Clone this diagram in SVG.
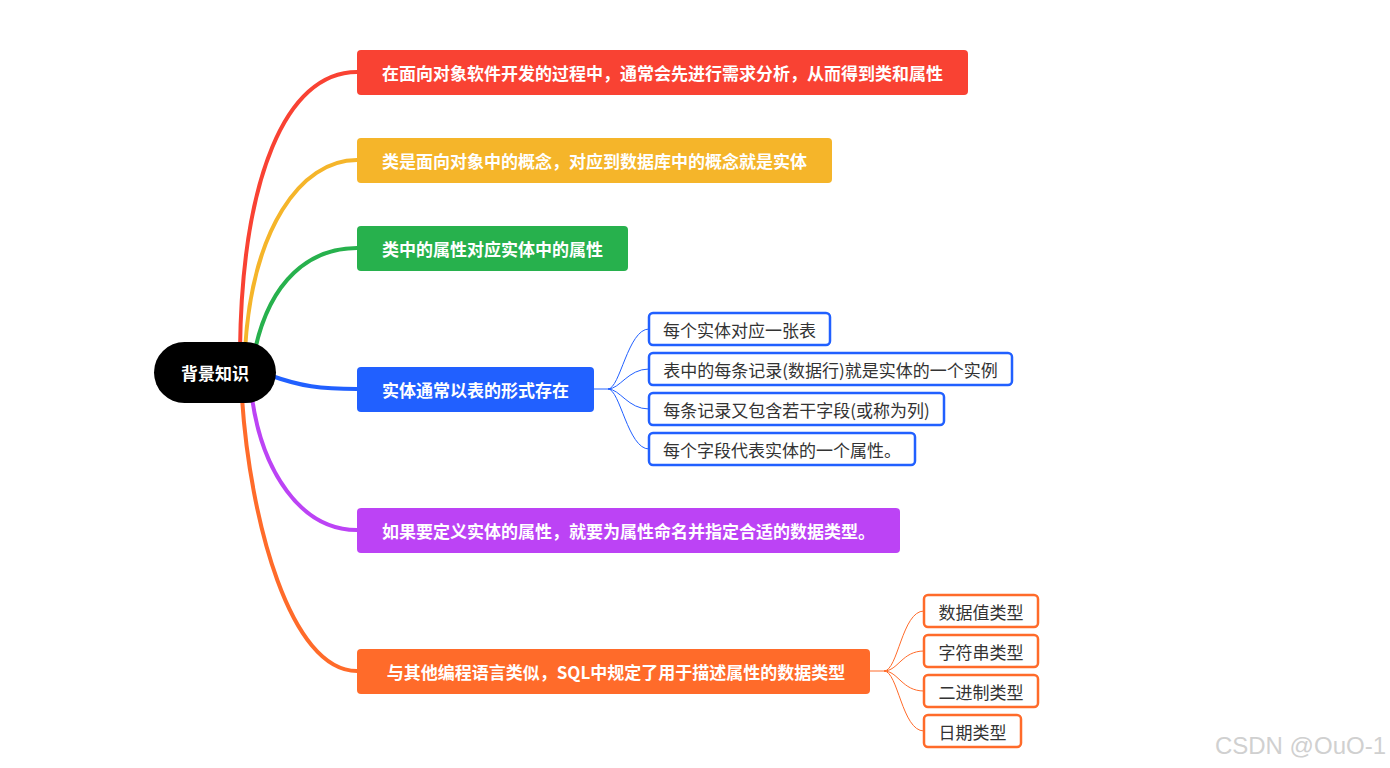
<svg xmlns="http://www.w3.org/2000/svg" width="1390" height="768" viewBox="0 0 1390 768">
<style>
.t{font-family:"Noto Sans CJK SC","Microsoft YaHei",sans-serif;font-size:17px;text-anchor:middle;dominant-baseline:central}
.b{font-weight:bold;fill:#fff}
.c{fill:#333}
.main{fill:none;stroke-width:4;stroke-linecap:round}
.sub{fill:none;stroke-width:1}
.cb{fill:#fff;stroke-width:2.5}
</style>
<rect width="1390" height="768" fill="#fff"/>
<g id="connectors">
<path class="main" stroke="#F94233" d="M240,350 C242,180 285,72 357,72"/>
<path class="main" stroke="#F5B52A" d="M245,350 C252,230 300,160 357,160"/>
<path class="main" stroke="#27B14D" d="M255,350 C270,280 310,248 357,248"/>
<path class="main" stroke="#2160FF" d="M272,376 C300,386 320,389 357,389"/>
<path class="main" stroke="#BC43F5" d="M252,398 C262,470 300,530 357,530"/>
<path class="main" stroke="#FF6B2A" d="M242,398 C250,520 290,671 357,671"/>
<g stroke="#2160FF" class="sub">
<path class="sub" d="M594,389 H608"/>
<path class="sub" d="M608,389 C620,389 628,329 649,329"/>
<path class="sub" d="M608,389 C620,389 628,369 649,369"/>
<path class="sub" d="M608,389 C620,389 628,409 649,409"/>
<path class="sub" d="M608,389 C620,389 628,449 649,449"/>
</g>
<g stroke="#FF6B2A" class="sub">
<path class="sub" d="M870,671 H884"/>
<path class="sub" d="M884,671 C898,671 902,611 924,611"/>
<path class="sub" d="M884,671 C898,671 902,651 924,651"/>
<path class="sub" d="M884,671 C898,671 902,691 924,691"/>
<path class="sub" d="M884,671 C898,671 902,731 924,731"/>
</g>
</g>
<g id="root">
<rect x="154" y="342" width="122" height="61" rx="30.5" fill="#000"/>
<text class="t b" x="215" y="372.5">背景知识</text>
</g>
<g id="n1"><rect x="357" y="50" width="611" height="45" rx="4" fill="#F94233"/><text class="t b" x="662.5" y="72.5">在面向对象软件开发的过程中，通常会先进行需求分析，从而得到类和属性</text></g>
<g id="n2"><rect x="357" y="138" width="475" height="45" rx="4" fill="#F5B52A"/><text class="t b" x="594.5" y="160.5">类是面向对象中的概念，对应到数据库中的概念就是实体</text></g>
<g id="n3"><rect x="357" y="226" width="271" height="45" rx="4" fill="#27B14D"/><text class="t b" x="492.5" y="248.5">类中的属性对应实体中的属性</text></g>
<g id="n4"><rect x="357" y="367" width="237" height="45" rx="4" fill="#2160FF"/><text class="t b" x="475.5" y="389.5">实体通常以表的形式存在</text></g>
<g id="n5"><rect x="357" y="508" width="543" height="45" rx="4" fill="#BC43F5"/><text class="t b" x="628.5" y="530.5">如果要定义实体的属性，就要为属性命名并指定合适的数据类型。</text></g>
<g id="n6"><rect x="357" y="649" width="513" height="45" rx="4" fill="#FF6B2A"/><text class="t b" x="616" y="671.5">与其他编程语言类似，SQL中规定了用于描述属性的数据类型</text></g>
<g id="n4a"><rect class="cb" x="649" y="313" width="181" height="32" rx="4" stroke="#2160FF"/><text class="t c" x="739.5" y="329">每个实体对应一张表</text></g>
<g id="n4b"><rect class="cb" x="649" y="353" width="363" height="32" rx="4" stroke="#2160FF"/><text class="t c" x="830.5" y="369">表中的每条记录(数据行)就是实体的一个实例</text></g>
<g id="n4c"><rect class="cb" x="649" y="393" width="295" height="32" rx="4" stroke="#2160FF"/><text class="t c" x="796.5" y="409">每条记录又包含若干字段(或称为列)</text></g>
<g id="n4d"><rect class="cb" x="649" y="433" width="266" height="32" rx="4" stroke="#2160FF"/><text class="t c" x="782" y="449">每个字段代表实体的一个属性。</text></g>
<g id="n6a"><rect class="cb" x="924" y="595" width="114" height="32" rx="4" stroke="#FF6B2A"/><text class="t c" x="981" y="611">数据值类型</text></g>
<g id="n6b"><rect class="cb" x="924" y="635" width="114" height="32" rx="4" stroke="#FF6B2A"/><text class="t c" x="981" y="651">字符串类型</text></g>
<g id="n6c"><rect class="cb" x="924" y="675" width="114" height="32" rx="4" stroke="#FF6B2A"/><text class="t c" x="981" y="691">二进制类型</text></g>
<g id="n6d"><rect class="cb" x="924" y="715" width="97" height="32" rx="4" stroke="#FF6B2A"/><text class="t c" x="972.5" y="731">日期类型</text></g>
<text x="1386" y="754" font-family="Liberation Sans, Arial, sans-serif" font-size="24" fill="#d0d0d0" text-anchor="end">CSDN @OuO-1</text>
</svg>
